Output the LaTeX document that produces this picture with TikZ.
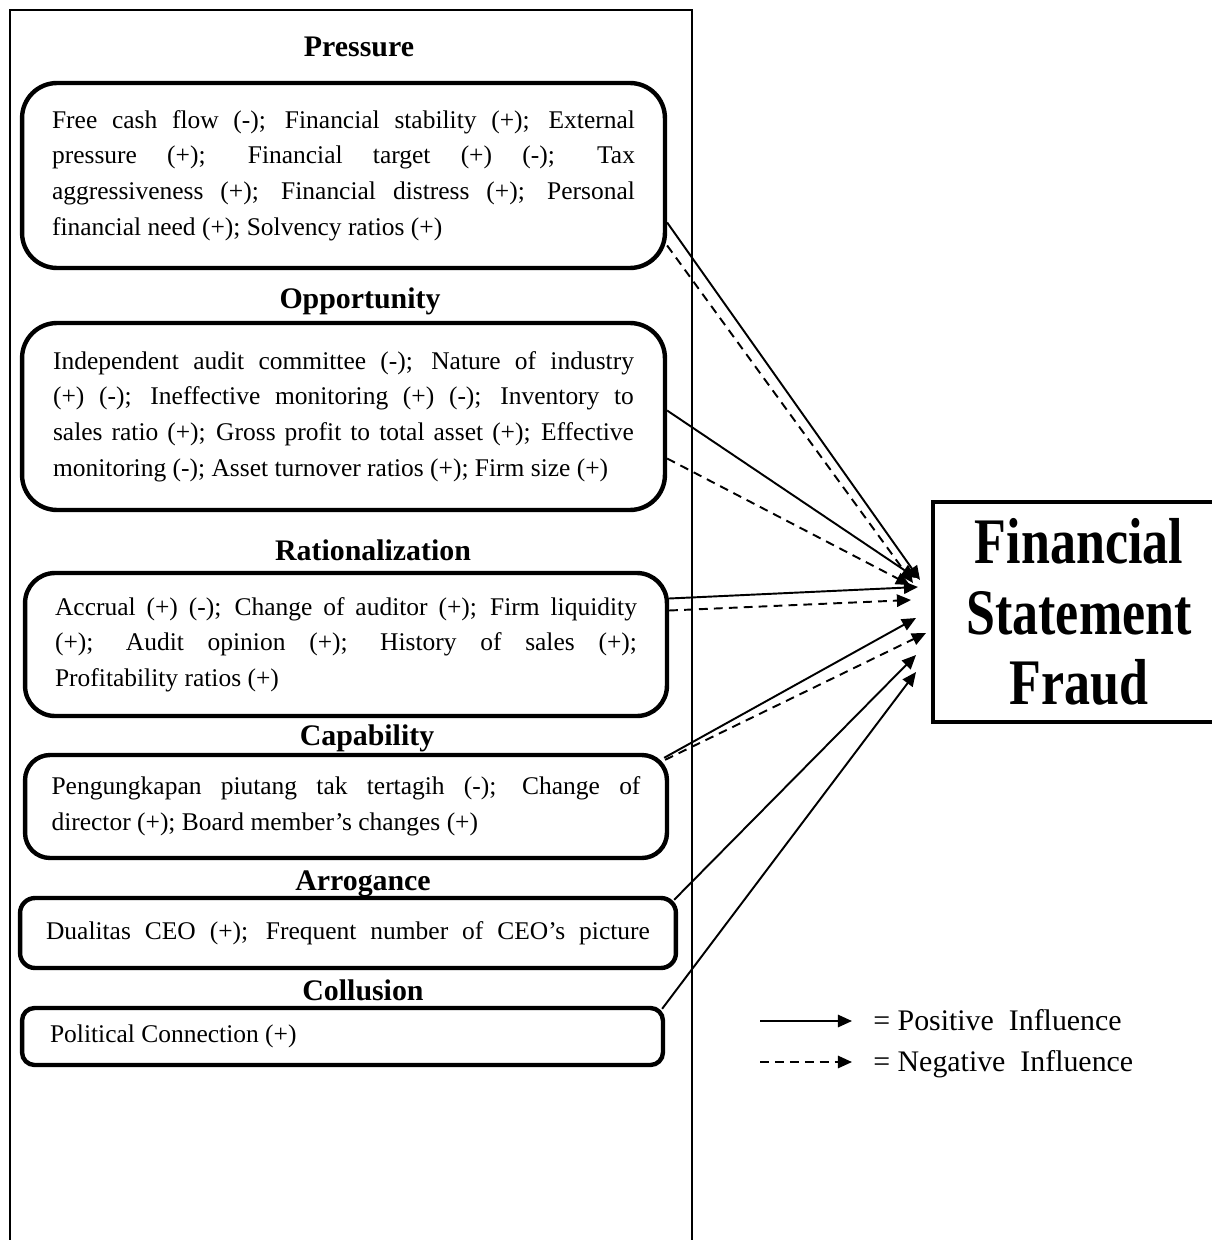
\documentclass[tikz,border=0pt]{standalone}
\usepackage{fontspec}
\setmainfont{Liberation Serif}
\newfontfamily\fraudfont[FakeStretch=0.8]{Liberation Serif}
\usetikzlibrary{arrows.meta,calc}

\begin{document}
\begin{tikzpicture}[x=0.02cm,y=-0.02cm]
\tikzstyle{every node}+=[inner sep=0pt]
\tikzstyle{head}=[font=\fontsize{17}{20}\selectfont\bfseries,anchor=base]
\tikzstyle{box}=[draw,line width=2.5pt,align=justify,font=\fontsize{14.5}{20.3}\selectfont]
\tikzstyle{posline}=[line width=1.1pt,-{Triangle[length=8pt,width=7pt]}]
\tikzstyle{negline}=[posline,dash pattern=on 5pt off 3.5pt]
\useasboundingbox (0,0) rectangle (1211,1240);
\draw[line width=0.9pt] (10,1240) -- (10,10) -- (692,10) -- (692,1240);
\node[head] (tpres) at (359,57) {Pressure};
\node[box,rounded corners=0.7cm,minimum width=12.86cm,minimum height=3.7cm,text width=11.66cm] (pres) at (343.5,175.5) {Free cash flow (-); Financial stability (+); External\linebreak pressure (+); Financial target (+) (-); Tax\linebreak aggressiveness (+); Financial distress (+); Personal\linebreak financial need (+); Solvency ratios (+)};
\node[head] (topp) at (360,308) {Opportunity};
\node[box,rounded corners=0.7cm,minimum width=12.86cm,minimum height=3.74cm,text width=11.62cm] (opp) at (343.5,416.5) {Independent audit committee (-); Nature of industry\linebreak (+) (-); Ineffective monitoring (+) (-); Inventory to\linebreak sales ratio (+); Gross profit to total asset (+); Effective\linebreak monitoring (-); Asset turnover ratios (+); Firm size (+)};
\node[head] (trat) at (373,560) {Rationalization};
\node[box,rounded corners=0.6cm,minimum width=12.84cm,minimum height=2.86cm,text width=11.64cm] (rat) at (346,644.5) {Accrual (+) (-); Change of auditor (+); Firm liquidity\linebreak (+); Audit opinion (+); History of sales (+);\linebreak Profitability ratios (+)};
\node[head] (tcap) at (367,745) {Capability};
\node[box,rounded corners=0.5cm,minimum width=12.84cm,minimum height=2.06cm,text width=11.78cm] (cap) at (346,806.5) {Pengungkapan piutang tak tertagih (-); Change of\linebreak director (+); Board member’s changes (+)};
\node[head] (tarr) at (363,890) {Arrogance};
\node[box,rounded corners=0.3cm,minimum width=13.12cm,minimum height=1.4cm,text width=12.08cm] (arr) at (348,933) {Dualitas CEO (+); Frequent number of CEO’s picture\parfillskip=0pt\par};
\node[head] (tcol) at (363,1000) {Collusion};
\node[box,rounded corners=0.25cm,minimum width=12.82cm,minimum height=1.14cm,text width=11.7cm] (col) at (342.5,1036.5) {Political Connection (+)};
\node[draw,line width=2.3pt,minimum width=5.84cm,minimum height=4.4cm,align=center,font=\fraudfont\fontsize{37}{40}\selectfont\bfseries] (fraud) at (1079,612) {Financial\\Statement\\Fraud};
\draw[posline] ($(pres.east)+(0,47)$) -- ($(fraud.west)+(-11,-32)$);
\draw[negline] ($(pres.east)+(0,70)$) -- ($(fraud.west)+(-18,-29)$);
\draw[posline] ($(opp.east)+(0,-6)$) -- ($(fraud.west)+(-15,-34)$);
\draw[negline] ($(opp.east)+(0,42)$) -- ($(fraud.west)+(-21,-27)$);
\draw[posline] ($(rat.east)+(0,-46)$) -- ($(fraud.west)+(-13,-25)$);
\draw[negline] ($(rat.east)+(0,-34)$) -- ($(fraud.west)+(-20,-12)$);
\draw[posline] ($(cap.north east)+(-5,5)$) -- ($(fraud.west)+(-15,6)$);
\draw[negline] ($(cap.north east)+(-4,7)$) -- ($(fraud.west)+(-5,21)$);
\draw[posline] ($(arr.north east)+(-4,4)$) -- ($(fraud.west)+(-15,43)$);
\draw[posline] ($(col.north east)+(-3,3)$) -- ($(fraud.west)+(-15,60)$);
\coordinate (lp1) at (760,1021);
\coordinate (lp2) at (852,1021);
\coordinate (ln1) at (760,1062);
\coordinate (ln2) at (852,1062);
\draw[posline] (lp1) -- (lp2);
\draw[negline] (ln1) -- (ln2);
\node[anchor=base west,font=\fontsize{17}{20}\selectfont] (lpos) at (873,1030) {= Positive\ \ Influence};
\node[anchor=base west,font=\fontsize{17}{20}\selectfont] (lneg) at (873,1071) {= Negative\ \ Influence};
\end{tikzpicture}
\end{document}
